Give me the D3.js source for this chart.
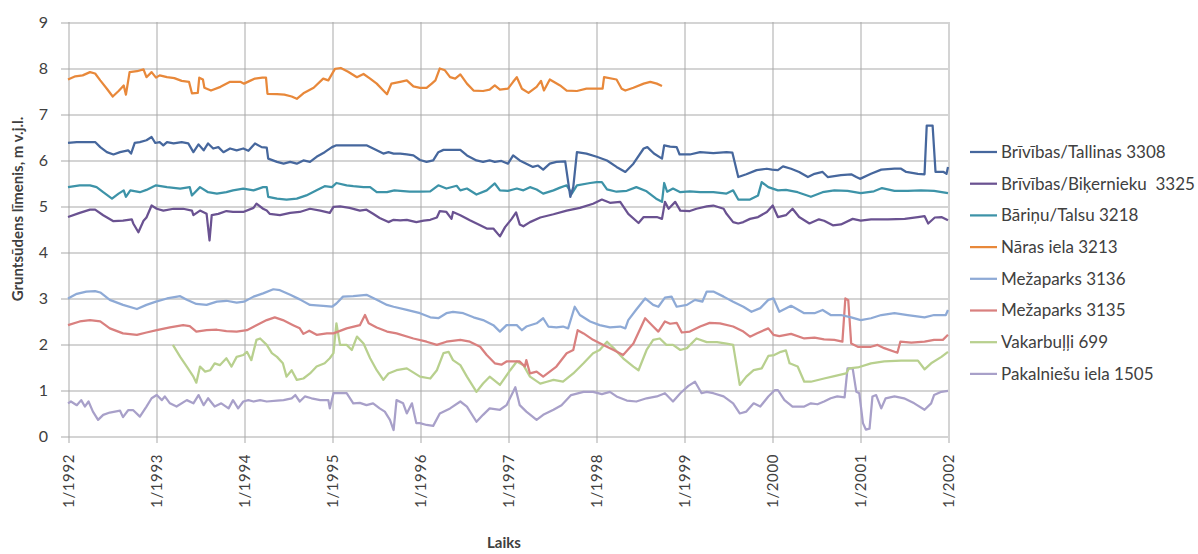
<!DOCTYPE html>
<html>
<head>
<meta charset="utf-8">
<script src="https://cdn.jsdelivr.net/npm/d3@7"></script>
<style>
  body { margin: 0; background: #fff; }
  text { font-family: Lato, "Liberation Sans", sans-serif; fill: #404040; }
</style>
</head>
<body>
<svg id="svg"></svg>
<script>
// time axis: months since 1/1992
let tickMonths = [0, 12, 24, 36, 48, 60, 72, 84, 96, 108, 120]
let tickLabels = ["1/1992", "1/1993", "1/1994", "1/1995", "1/1996", "1/1997", "1/1998", "1/1999", "1/2000", "1/2001", "1/2002"]
let yTicks = [0, 1, 2, 3, 4, 5, 6, 7, 8, 9]

// series names (legend order)
let names = ["Brīvības/Tallinas 3308", "Brīvības/Biķernieku  3325", "Bāriņu/Talsu 3218", "Nāras iela 3213",
             "Mežaparks 3136", "Mežaparks 3135", "Vakarbuļļi 699", "Pakalniešu iela 1505"]
let colors = ["#46679d", "#6a5291", "#3d93a8", "#e8883a", "#8eaad6", "#d9807f", "#b8d08e", "#a8a0c9"]

// [month, level] pairs
let tallinas = [[0,6.37],[1.2,6.39],[3,6.39],[3.7,6.39],[4.4,6.28],[5.3,6.17],[6.2,6.12],[7.1,6.17],[8.2,6.21],[8.6,6.14],[9.1,6.37],[9.8,6.39],[10.7,6.43],[11.4,6.5],[11.9,6.37],[12.5,6.39],[13,6.32],[13.5,6.39],[14.4,6.36],[15.5,6.39],[16.4,6.36],[17.1,6.17],[17.8,6.34],[18.5,6.21],[19.1,6.36],[19.8,6.25],[20.5,6.28],[21.2,6.17],[22.1,6.25],[23,6.21],[23.9,6.25],[24.6,6.2],[25.5,6.36],[26.4,6.28],[27.1,6.27],[27.3,6.03],[28.5,5.96],[29.4,5.92],[30.3,5.96],[31.2,5.92],[32.1,5.99],[33,5.96],[33.9,6.07],[35,6.17],[36,6.28],[36.6,6.32],[38.9,6.32],[40.7,6.32],[42.1,6.21],[43,6.14],[43.7,6.17],[44.4,6.14],[45.3,6.14],[46.2,6.12],[47.1,6.1],[48,6.0],[48.9,5.96],[49.8,5.99],[50.5,6.17],[51.2,6.22],[53.5,6.22],[54.4,6.1],[55.7,5.99],[56.6,5.96],[57.5,5.99],[58.2,5.96],[59.1,5.98],[60,5.92],[60.7,6.1],[61.6,5.99],[62.5,5.92],[63.4,5.85],[64.1,5.88],[64.8,5.79],[65.7,5.92],[66.6,5.96],[67.8,5.97],[68.5,5.2],[68.9,5.41],[69.4,6.17],[70.7,6.14],[72.1,6.07],[73.5,5.99],[74.8,5.85],[76,5.74],[77.1,5.92],[78.5,6.25],[79,6.28],[79.9,6.14],[81,6.03],[81.3,6.32],[82.1,6.29],[83,6.28],[83.4,6.12],[84.8,6.12],[86.2,6.17],[88,6.15],[89.8,6.17],[90.6,6.16],[91.4,5.63],[92.5,5.69],[93.9,5.78],[95.3,5.81],[96,5.79],[96.8,5.78],[97.5,5.86],[98.6,5.81],[99.7,5.74],[100.9,5.63],[101.8,5.7],[102.9,5.74],[103.6,5.63],[105.4,5.67],[106.8,5.69],[107.5,5.63],[108,5.59],[109.5,5.7],[110.9,5.79],[112.7,5.81],[113.6,5.81],[114.3,5.74],[115.9,5.7],[116.8,5.69],[117.1,6.75],[117.9,6.75],[118.3,5.74],[119.4,5.74],[119.8,5.7],[120,5.85]]

let bikernieku = [[0,4.76],[1.6,4.85],[3,4.92],[3.7,4.92],[4.8,4.8],[6.2,4.67],[7.5,4.68],[8.7,4.71],[8.9,4.62],[9.6,4.43],[10.3,4.68],[10.7,4.75],[11.4,5.01],[12.1,4.94],[13,4.9],[14.4,4.94],[15.7,4.94],[16.9,4.9],[17.1,4.8],[18,4.9],[18.9,4.83],[19.3,4.25],[19.6,4.8],[20.5,4.83],[21.6,4.89],[22.5,4.87],[23.9,4.87],[25.3,4.96],[25.7,5.05],[26.6,4.94],[27.1,4.9],[27.5,4.83],[28.9,4.8],[30.3,4.85],[31.6,4.87],[33,4.94],[34.4,4.9],[35.7,4.85],[36.2,4.98],[37.1,4.99],[38.4,4.96],[39.8,4.9],[40.7,4.92],[41.6,4.83],[42.5,4.74],[43.7,4.65],[44.4,4.7],[45.3,4.69],[46.2,4.7],[47.5,4.65],[48.5,4.68],[49.4,4.7],[50.3,4.75],[50.7,4.89],[51.6,4.87],[52.3,4.72],[52.5,4.87],[53.5,4.8],[54.8,4.69],[56.2,4.58],[57.1,4.51],[58,4.51],[58.9,4.34],[59.6,4.54],[60.5,4.72],[61.1,4.86],[61.6,4.6],[62.1,4.56],[63,4.65],[64.4,4.75],[66.2,4.82],[68,4.9],[69.8,4.96],[71.6,5.05],[72.8,5.14],[73.9,5.07],[75.3,5.09],[76.4,4.83],[77.8,4.63],[78.5,4.76],[80.3,4.76],[81,4.72],[81.4,5.09],[81.9,4.94],[82.8,5.09],[83.5,4.9],[84.8,4.89],[85.7,4.94],[87.1,4.99],[88,5.01],[89.4,4.94],[89.8,4.83],[90.7,4.65],[91.4,4.62],[92.1,4.65],[93,4.72],[94.1,4.76],[95.3,4.87],[96.1,5.01],[96.8,4.76],[97.9,4.8],[98.8,4.94],[99.7,4.76],[101.1,4.62],[102.4,4.71],[103.1,4.68],[104.3,4.58],[105.4,4.6],[107,4.72],[108.1,4.68],[109.5,4.71],[111.8,4.71],[114.1,4.72],[115.9,4.76],[116.8,4.78],[117.3,4.62],[118.2,4.75],[119.1,4.76],[120,4.69]]

let talsu = [[0,5.41],[1.6,5.45],[3,5.45],[3.9,5.41],[4.8,5.3],[6,5.16],[6.9,5.27],[7.6,5.34],[7.9,5.2],[8.5,5.34],[9.8,5.3],[10.7,5.35],[12,5.45],[13.5,5.41],[15.3,5.38],[16.6,5.41],[16.9,5.23],[18,5.41],[19.1,5.3],[20.3,5.27],[21.6,5.3],[22.5,5.34],[23.9,5.38],[25.3,5.34],[26.6,5.41],[27.1,5.41],[27.3,5.2],[28.5,5.16],[29.8,5.14],[31.2,5.16],[32.5,5.23],[33.9,5.34],[35,5.43],[36,5.41],[36.6,5.5],[38,5.45],[38.9,5.43],[40.3,5.41],[41.2,5.41],[42.1,5.3],[43.5,5.3],[44.5,5.34],[45.3,5.33],[46.6,5.31],[48,5.31],[49.4,5.32],[50.5,5.45],[51.6,5.38],[53,5.44],[53.5,5.34],[54.4,5.38],[55.7,5.25],[57.1,5.34],[58.2,5.49],[58.9,5.34],[60,5.33],[61.2,5.38],[62.1,5.34],[63,5.41],[63.9,5.36],[64.8,5.27],[66.2,5.34],[67.1,5.4],[68,5.45],[68.7,5.27],[69.4,5.45],[71.2,5.5],[72.1,5.52],[72.8,5.52],[73.5,5.36],[74.8,5.31],[76.2,5.33],[77.5,5.41],[78.9,5.32],[80.2,5.16],[81,5.09],[81.3,5.5],[81.7,5.31],[82.5,5.38],[83.5,5.3],[84.8,5.32],[86.2,5.3],[88,5.3],[89.8,5.27],[90.7,5.34],[91.4,5.14],[93,5.14],[94.1,5.23],[94.6,5.52],[95.5,5.41],[96.8,5.34],[97.9,5.35],[99.5,5.3],[101.3,5.2],[102.9,5.3],[104.5,5.34],[106.3,5.33],[108.1,5.28],[109.9,5.32],[111,5.39],[112.7,5.33],[114.5,5.33],[116.3,5.34],[118.1,5.33],[120,5.28]]

let naras = [[0,7.75],[1,7.82],[2,7.84],[3,7.91],[3.7,7.88],[4.4,7.73],[5.3,7.55],[6.1,7.38],[6.9,7.5],[7.6,7.62],[7.9,7.42],[8.4,7.91],[9.4,7.93],[10.3,7.97],[10.7,7.8],[11.4,7.91],[12,7.79],[12.5,7.84],[13.5,7.8],[14.5,7.78],[15.5,7.72],[16.5,7.7],[16.9,7.45],[17.7,7.46],[17.9,7.79],[18.4,7.75],[18.6,7.57],[19.5,7.51],[20.8,7.59],[22.1,7.7],[23.5,7.7],[24,7.66],[24.8,7.72],[25.5,7.77],[26.5,7.79],[27,7.79],[27.2,7.44],[28.5,7.43],[29.5,7.42],[30.5,7.38],[31.2,7.33],[32.1,7.45],[33.5,7.57],[34.8,7.77],[35.5,7.73],[36.4,7.98],[37.2,8.0],[38.2,7.92],[39.4,7.8],[40.3,7.87],[41.2,7.77],[42.1,7.66],[43,7.51],[43.5,7.43],[44.1,7.66],[45.3,7.7],[46.2,7.73],[47.1,7.6],[48,7.57],[48.9,7.57],[49.6,7.66],[50.1,7.73],[50.7,7.99],[51.4,7.95],[52.1,7.8],[52.8,7.77],[53.5,7.86],[54.4,7.66],[55.3,7.51],[56.6,7.5],[57.5,7.53],[58.2,7.62],[58.9,7.53],[60,7.55],[60.7,7.7],[61.2,7.8],[61.9,7.55],[62.8,7.46],[63.9,7.59],[64.5,7.72],[64.9,7.51],[65.7,7.75],[67.1,7.62],[68,7.51],[69.4,7.5],[70.7,7.55],[72,7.55],[72.9,7.55],[73.1,7.8],[74.8,7.75],[75.5,7.55],[76,7.51],[77.1,7.57],[78.5,7.66],[79.4,7.7],[80.3,7.66],[81,7.61]]

let mezaparks3136 = [[0,2.99],[1.2,3.09],[2.5,3.14],[3.7,3.15],[4.4,3.12],[5.7,2.96],[7.5,2.85],[9.4,2.76],[10.7,2.85],[12,2.92],[13.5,2.99],[15.3,3.04],[16.2,2.96],[17.5,2.87],[18.9,2.85],[20.3,2.92],[21.6,2.94],[23,2.9],[24,2.92],[25.3,3.03],[26.6,3.1],[28,3.19],[28.9,3.17],[30.3,3.07],[31.6,2.97],[33,2.85],[34.8,2.83],[36,2.81],[36.6,2.88],[37.5,3.03],[38.9,3.04],[40.7,3.07],[42.1,2.96],[43.5,2.85],[44.4,2.81],[46.2,2.74],[48,2.67],[49.4,2.58],[50.5,2.56],[51.6,2.67],[52.5,2.7],[53.9,2.67],[55.3,2.58],[56.6,2.52],[58,2.41],[58.9,2.27],[59.8,2.41],[61.2,2.41],[61.9,2.3],[62.5,2.38],[63.9,2.45],[64.8,2.56],[65.5,2.38],[66.6,2.36],[67.5,2.38],[68.2,2.34],[69.1,2.81],[69.8,2.63],[71.2,2.49],[72.5,2.41],[73.9,2.36],[75.3,2.38],[76,2.34],[76.4,2.52],[77.5,2.75],[78.7,2.99],[79.8,2.85],[80.5,2.81],[81.4,3.01],[82.3,3.03],[83,2.81],[84.4,2.85],[85.5,2.96],[86.5,2.92],[87.1,3.14],[88,3.14],[89.4,3.03],[90.7,2.92],[92.1,2.81],[93.2,2.7],[94.4,2.78],[95.5,2.96],[96.2,2.99],[97,2.7],[98.6,2.83],[100.4,2.67],[101.8,2.67],[102.9,2.74],[104,2.63],[105.4,2.63],[106.8,2.58],[108.1,2.52],[109.5,2.56],[110.9,2.63],[112.7,2.67],[114.5,2.63],[116.8,2.58],[118.1,2.63],[119.7,2.63],[120,2.74]]

let mezaparks3135 = [[0,2.41],[1.6,2.49],[3,2.52],[4.4,2.49],[5.7,2.34],[7.5,2.23],[9.4,2.2],[10.7,2.25],[12.1,2.3],[13.9,2.36],[15.7,2.41],[16.6,2.39],[17.5,2.27],[18.9,2.3],[20.3,2.31],[21.6,2.28],[23,2.27],[24.4,2.3],[25.7,2.41],[27.1,2.52],[28.2,2.58],[29.3,2.52],[30.7,2.41],[31.6,2.34],[32.1,2.22],[32.9,2.29],[33.9,2.2],[35.3,2.23],[36.2,2.23],[38,2.34],[39.8,2.41],[40.5,2.63],[41,2.45],[42.1,2.36],[43.5,2.27],[44.8,2.23],[47.1,2.12],[48.9,2.05],[50.3,1.98],[51.6,2.05],[53.5,2.09],[54.8,2.05],[56.2,1.94],[57.1,1.76],[58.2,1.58],[59.1,1.55],[59.8,1.62],[61.6,1.62],[62.3,1.51],[62.5,1.65],[63,1.36],[63.9,1.4],[64.8,1.29],[65.7,1.4],[66.6,1.51],[68,1.8],[68.9,1.87],[69.5,2.3],[70.3,2.23],[71.6,2.09],[73,1.98],[74.4,1.87],[75.7,1.76],[77.1,2.01],[78.7,2.56],[79.8,2.38],[80.5,2.27],[81.4,2.49],[82.1,2.44],[83,2.46],[83.7,2.25],[84.8,2.27],[86.2,2.38],[87.5,2.46],[88.9,2.45],[90.7,2.38],[92.1,2.27],[93,2.16],[93.9,2.23],[95.5,2.34],[96.2,2.2],[97,2.17],[98.6,2.22],[100.4,2.12],[101.8,2.14],[103.1,2.1],[104.5,2.09],[105.6,2.05],[106,2.99],[106.4,2.95],[106.8,2.01],[107.7,1.94],[109.5,1.94],[110.4,1.98],[111.3,1.91],[113.1,1.81],[113.5,2.05],[115,2.03],[116.8,2.05],[118.1,2.09],[119.3,2.09],[120,2.2]]

let vakarbulli = [[14.3,1.98],[15.3,1.72],[16.2,1.51],[17.1,1.29],[17.5,1.16],[18,1.51],[18.7,1.4],[19.4,1.43],[20,1.58],[20.7,1.54],[21.6,1.69],[22.3,1.51],[23,1.72],[23.9,1.76],[24.4,1.83],[25,1.65],[25.7,2.09],[26.2,2.12],[27.1,1.98],[27.8,1.8],[28.5,1.72],[29.3,1.58],[29.8,1.29],[30.5,1.43],[31.2,1.22],[32.1,1.25],[33,1.36],[33.9,1.51],[35,1.58],[35.7,1.69],[36.2,1.8],[36.6,2.45],[37.1,1.98],[38,1.98],[38.7,1.87],[39.4,2.16],[40.3,2.01],[41.2,1.69],[42.1,1.43],[43,1.22],[43.7,1.36],[44.8,1.43],[46.2,1.47],[48,1.29],[49.4,1.25],[50.3,1.43],[51.2,1.8],[51.9,1.83],[52.5,1.65],[53.5,1.54],[54.4,1.29],[55.7,0.96],[56.6,1.14],[57.5,1.29],[58.9,1.11],[60.3,1.43],[61.2,1.62],[62.1,1.54],[63,1.29],[64.4,1.14],[65.3,1.18],[66.2,1.22],[67.5,1.18],[68.9,1.36],[70.3,1.58],[71.6,1.8],[72.5,1.87],[73.5,2.05],[74.4,1.91],[75.7,1.69],[77.1,1.51],[77.8,1.43],[78.9,1.87],[79.8,2.09],[80.7,2.12],[81.6,1.98],[82.5,1.98],[83.5,1.87],[84.4,1.91],[85.7,2.12],[87.1,2.04],[88.5,2.04],[89.8,2.01],[90.7,1.98],[91.6,1.11],[92.5,1.29],[93.5,1.43],[94.6,1.47],[95.5,1.74],[96.3,1.76],[97.2,1.83],[97.9,1.86],[98.4,1.58],[99.5,1.51],[100.4,1.18],[101.3,1.18],[103.1,1.25],[104.5,1.3],[106.1,1.36],[106.5,1.47],[107.7,1.49],[109.5,1.58],[111.3,1.62],[113.6,1.64],[115.9,1.64],[116.8,1.45],[117.7,1.58],[119.1,1.72],[120,1.83]]

let pakalniesu = [[0,0.71],[0.4,0.75],[1.2,0.67],[1.8,0.78],[2.3,0.64],[2.8,0.75],[3.4,0.53],[4.1,0.35],[4.8,0.46],[5.7,0.51],[7.1,0.55],[7.5,0.41],[8.2,0.56],[8.9,0.56],[9.8,0.42],[10.7,0.64],[11.4,0.82],[12.1,0.89],[12.8,0.78],[13.2,0.86],[13.9,0.71],[14.8,0.64],[16.2,0.78],[17.1,0.71],[17.8,0.89],[18.5,0.67],[19.1,0.82],[20,0.64],[20.9,0.71],[21.9,0.6],[22.5,0.78],[23.2,0.6],[23.9,0.75],[24.6,0.78],[25.3,0.75],[26.2,0.78],[27.1,0.75],[28.5,0.77],[29.4,0.78],[30.5,0.82],[31,0.89],[31.6,0.75],[32.3,0.86],[33.2,0.82],[34.4,0.78],[35.5,0.78],[35.7,0.6],[36.2,0.93],[38,0.93],[38.9,0.71],[39.8,0.72],[40.7,0.67],[41.6,0.71],[42.5,0.6],[43.2,0.53],[43.9,0.35],[44.4,0.13],[44.8,0.78],[45.7,0.71],[46.2,0.49],[46.9,0.71],[47.5,0.28],[48,0.28],[48.9,0.24],[49.8,0.22],[50.7,0.49],[52.1,0.6],[53.5,0.75],[54.4,0.64],[55.7,0.31],[56.6,0.46],[57.5,0.6],[58.9,0.57],[59.8,0.67],[61,1.06],[61.6,0.67],[62.5,0.53],[63.9,0.35],[64.8,0.46],[66.2,0.57],[67.3,0.67],[68.6,0.89],[70.3,0.96],[71.6,0.96],[72.8,0.91],[73.9,0.96],[74.8,0.86],[76.2,0.77],[77.5,0.75],[78.9,0.82],[80.3,0.86],[81.4,0.93],[82.5,0.75],[83.5,0.93],[84.6,1.09],[85.5,1.18],[86.4,0.93],[87.1,0.96],[88,0.93],[89.4,0.86],[90.7,0.71],[91.6,0.49],[92.5,0.53],[93.5,0.71],[94.4,0.64],[95.5,0.86],[96.4,1.0],[96.8,1.0],[97.7,0.78],[98.8,0.64],[100.4,0.64],[101.3,0.71],[102.2,0.69],[103.1,0.75],[104,0.82],[104.9,0.86],[105.9,0.84],[106.3,1.47],[107,1.47],[107.5,0.96],[107.9,0.93],[108.4,0.28],[108.8,0.14],[109.3,0.16],[109.7,0.86],[110.2,0.89],[110.9,0.6],[111.5,0.82],[112.7,0.86],[114,0.82],[115.4,0.71],[116.8,0.57],[117.7,0.71],[118.1,0.89],[119.1,0.96],[120,0.98]]

let seriesData = [tallinas, bikernieku, talsu, naras, mezaparks3136, mezaparks3135, vakarbulli, pakalniesu]

// svg properties
let width = 1198,
    height = 554;
let svg = d3.select("#svg").attr("width", width).attr("height", height);

let plotLeft = 68, plotRight = 948, plotTop = 22, plotBottom = 436;

let xScale = d3.scaleLinear().domain([0, 120]).range([plotLeft, plotRight]);
let yScale = d3.scaleLinear().domain([0, 9]).range([plotBottom, plotTop]);

// horizontal grid + y labels
let yAxis = d3.axisLeft(yScale)
    .tickValues(yTicks)
    .tickSize(-(plotRight - plotLeft + 7))
    .tickPadding(13)
    .tickFormat(d3.format("d"));

let gy = svg.append("g")
    .attr("transform", "translate(" + (plotLeft - 7) + ",0.5)")
    .call(yAxis);
gy.select(".domain").remove();
gy.selectAll("line").attr("stroke", "#a9a9a9");
gy.selectAll("text").style("font-size", "16px").attr("fill", "#404040");

// vertical grid + x labels
let xAxis = d3.axisBottom(xScale)
    .tickValues(tickMonths)
    .tickSize(-(plotBottom - plotTop + 7))
    .tickFormat(function (d, i) { return tickLabels[i]; });

let gx = svg.append("g")
    .attr("transform", "translate(0.5," + (plotBottom + 7) + ")")
    .call(xAxis);
gx.select(".domain").remove();
gx.selectAll("line").attr("stroke", "#a9a9a9");
gx.selectAll("text")
    .style("font-size", "15px")
    .style("letter-spacing", "0.6px")
    .attr("fill", "#404040")
    .attr("transform", "rotate(-90)")
    .attr("text-anchor", "end")
    .attr("x", -11)
    .attr("y", 0)
    .attr("dy", "0.35em");

// lines
let line = d3.line()
    .x(function (d) { return xScale(d[0]); })
    .y(function (d) { return yScale(d[1]); });

let gLine = svg.append("g");
// draw bottom-listed series first so the darker ones sit on top
d3.range(seriesData.length).reverse().forEach(function (i) {
  gLine.append("path")
      .datum(seriesData[i])
      .attr("fill", "none")
      .attr("stroke", colors[i])
      .attr("stroke-width", 2.25)
      .attr("stroke-linejoin", "round")
      .attr("d", line);
});

// legend
let legend = svg.append("g").attr("transform", "translate(970,152)");
let item = legend.selectAll("g")
    .data(names)
    .enter().append("g")
    .attr("transform", function (d, i) { return "translate(0," + (i * 31.7) + ")"; });
item.append("line")
    .attr("x1", 0).attr("x2", 27)
    .attr("stroke", function (d, i) { return colors[i]; })
    .attr("stroke-width", 2.25);
item.append("text")
    .attr("x", 31)
    .attr("dy", "0.35em")
    .style("font-size", "17px")
    .style("white-space", "pre")
    .attr("fill", "#404040")
    .text(function (d) { return d; });

// axis titles
svg.append("text")
    .attr("transform", "translate(23,209) rotate(-90)")
    .attr("text-anchor", "middle")
    .style("font-size", "15px")
    .style("font-weight", "bold")
    .attr("fill", "#262626")
    .text("Gruntsūdens līmenis, m v.j.l.");

svg.append("text")
    .attr("x", 504)
    .attr("y", 548)
    .attr("text-anchor", "middle")
    .style("font-size", "15px")
    .style("font-weight", "bold")
    .attr("fill", "#262626")
    .text("Laiks");
</script>
</body>
</html>
